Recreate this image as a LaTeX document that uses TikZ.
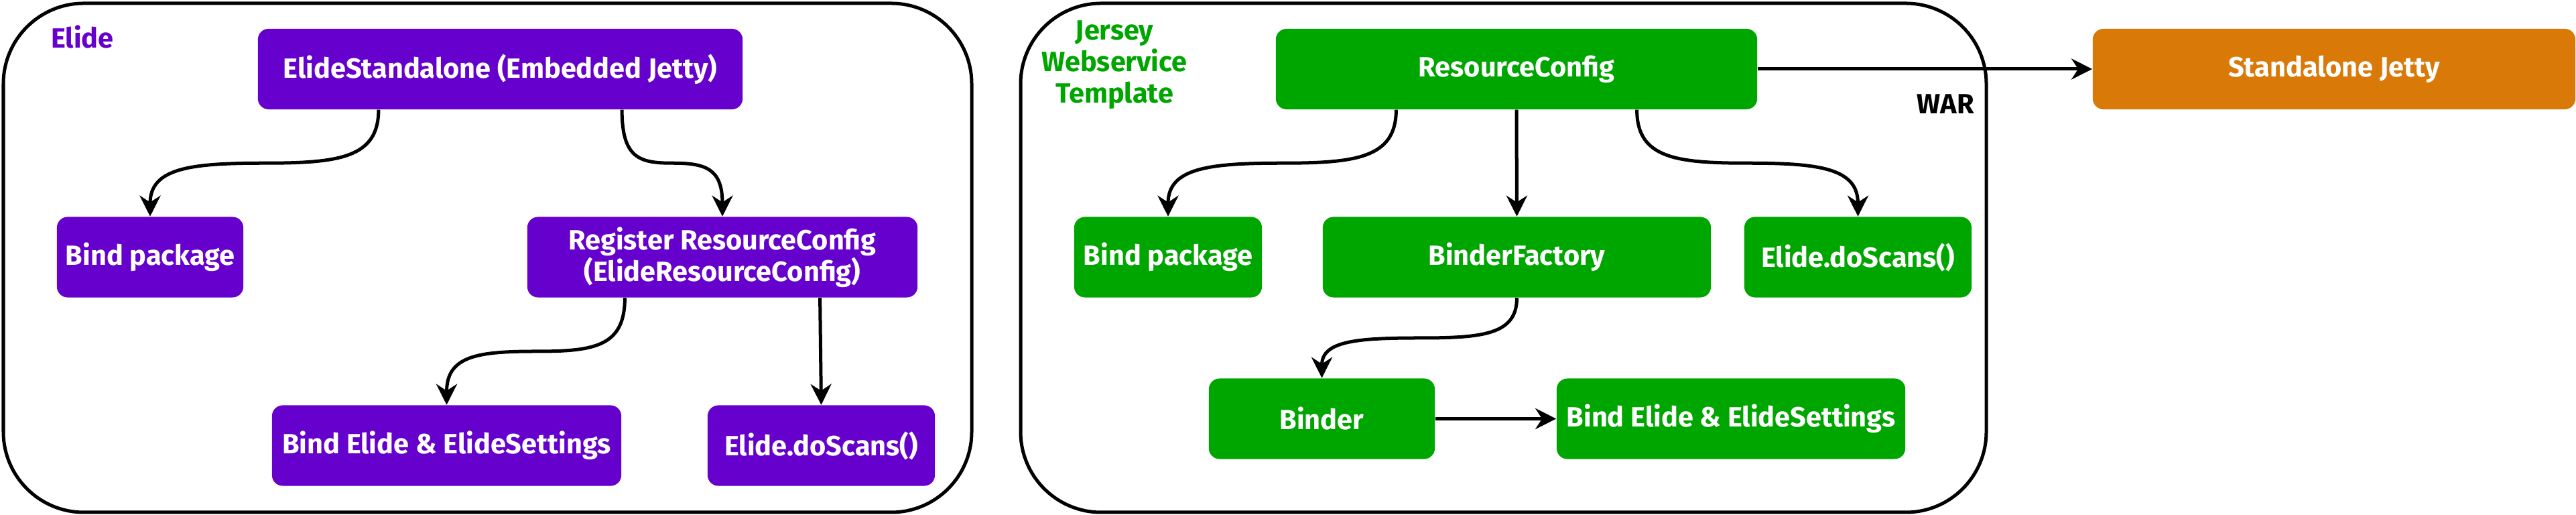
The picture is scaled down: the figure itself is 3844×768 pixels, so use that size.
\documentclass[tikz,border=0pt]{standalone}
\usepackage{fontspec}
\setmainfont{Fira Sans}
\usetikzlibrary{arrows.meta,calc}
\definecolor{epurple}{HTML}{6600CC}
\definecolor{jgreen}{HTML}{00A600}
\definecolor{jorange}{HTML}{D97A08}
\begin{document}
\begin{tikzpicture}[x=0.01cm,y=0.01cm,
  frame/.style={draw=black,line width=0.05cm,rounded corners=1.2cm},
  lbl/.style={font=\fontsize{11.8}{13.3}\selectfont\bfseries, align=center, inner sep=0pt},
  box/.style={lbl, rounded corners=0.16cm, minimum height=1.2cm, text=white},
  pbox/.style={box, fill=epurple},
  gbox/.style={box, fill=jgreen},
  obox/.style={box, fill=jorange},
  arr/.style={draw=black, line width=0.05cm, -{Stealth[length=0.31cm,width=0.31cm,inset=0.1cm]}},
]
\useasboundingbox (0,0) rectangle (3844,-768);

% frames
\draw[frame] (5,-5) rectangle (1450,-764);
\draw[frame] (1523,-5) rectangle (2964,-764);
\node[lbl, text=epurple] (tElide) at (123,-55) {Elide};
\node[lbl, text=jgreen] (tJersey) at (1663,-97) {Jersey\\Webservice\\Template};
\node[lbl, text=black] (tWar) at (2903,-155) {WAR};

% Elide nodes
\node[pbox, minimum width=7.23cm] (es) at (746.5,-103) {ElideStandalone (Embedded Jetty)};
\node[pbox, minimum width=2.78cm] (bp1) at (224,-383.5) {Bind package};
\node[pbox, minimum width=5.82cm] (reg) at (1078,-383.5) {Register ResourceConfig\\(ElideResourceConfig)};
\node[pbox, minimum width=5.21cm] (bes1) at (666.5,-664.5) {Bind Elide \& ElideSettings};
\node[pbox, minimum width=3.39cm] (ds1) at (1225.5,-664.5) {Elide.doScans()};

% Jersey nodes
\node[gbox, minimum width=7.18cm] (rc) at (2263,-103) {ResourceConfig};
\node[gbox, minimum width=2.80cm] (bp2) at (1743,-383.5) {Bind package};
\node[gbox, minimum width=5.79cm] (bf) at (2263.5,-383.5) {BinderFactory};
\node[gbox, minimum width=3.39cm] (ds2) at (2772.5,-383.5) {Elide.doScans()};
\node[gbox, minimum width=3.37cm] (bi) at (1972.5,-624.5) {Binder};
\node[gbox, minimum width=5.20cm] (bes2) at (2583,-624.5) {Bind Elide \& ElideSettings};

% Standalone Jetty
\node[obox, minimum width=7.20cm] (sj) at (3483,-103) {Standalone Jetty};

% connectors (Elide)
\path ([xshift=-1.815cm]es.south) coordinate (s1) (bp1.north) coordinate (e1);
\coordinate (m1) at ($(s1)!.5!(e1)$);
\draw[arr] (s1) .. controls +(0,-72) and +(111,0) .. (m1) .. controls +(-111,0) and +(0,72) .. (e1);

\path ([xshift=1.815cm]es.south) coordinate (s2) (reg.north) coordinate (e2);
\coordinate (m2) at ($(s2)!.5!(e2)$);
\draw[arr] (s2) .. controls +(0,-72) and +(-49,0) .. (m2) .. controls +(49,0) and +(0,72) .. (e2);

\path ([xshift=-1.455cm]reg.south) coordinate (s3) (bes1.north) coordinate (e3);
\coordinate (m3) at ($(s3)!.5!(e3)$);
\draw[arr] (s3) .. controls +(0,-73) and +(87,0) .. (m3) .. controls +(-87,0) and +(0,73) .. (e3);

\draw[arr] ([xshift=1.455cm]reg.south) -- (ds1.north);

% connectors (Jersey)
\path ([xshift=-1.795cm]rc.south) coordinate (s4) (bp2.north) coordinate (e4);
\coordinate (m4) at ($(s4)!.5!(e4)$);
\draw[arr] (s4) .. controls +(0,-72) and +(110,0) .. (m4) .. controls +(-110,0) and +(0,72) .. (e4);

\draw[arr] (rc.south) -- (bf.north);

\path ([xshift=1.795cm]rc.south) coordinate (s5) (ds2.north) coordinate (e5);
\coordinate (m5) at ($(s5)!.5!(e5)$);
\draw[arr] (s5) .. controls +(0,-72) and +(-107,0) .. (m5) .. controls +(107,0) and +(0,72) .. (e5);

\path (bf.south) coordinate (s6) (bi.north) coordinate (e6);
\coordinate (m6) at ($(s6)!.5!(e6)$);
\draw[arr] (s6) .. controls +(0,-55) and +(94,0) .. (m6) .. controls +(-94,0) and +(0,55) .. (e6);

\draw[arr] (bi.east) -- (bes2.west);
\draw[arr] (rc.east) -- (sj.west);
\end{tikzpicture}
\end{document}
